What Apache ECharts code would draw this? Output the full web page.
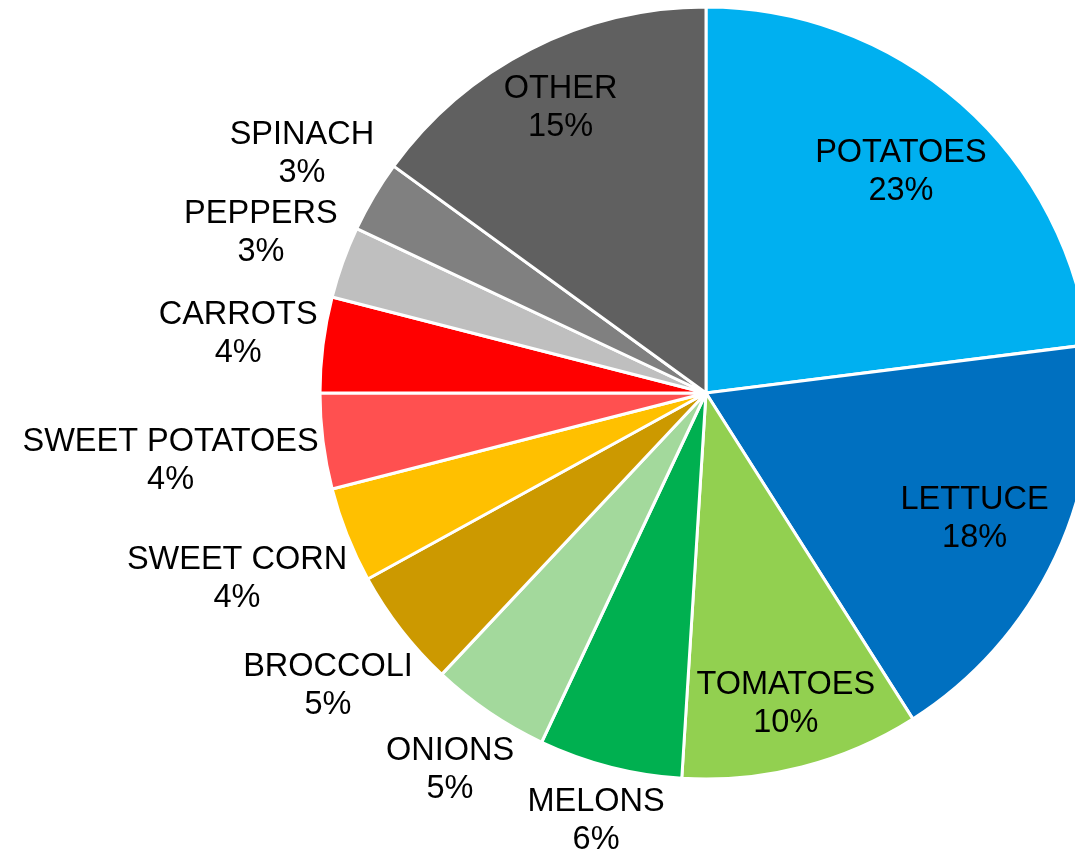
<!DOCTYPE html>
<html>
<head>
<meta charset="utf-8">
<title>Vegetable production share</title>
<script src="https://cdn.jsdelivr.net/npm/echarts@6/dist/echarts.min.js"></script>
<style>
  html, body { margin: 0; padding: 0; background: #ffffff; }
  #chart { width: 1075px; height: 851px; }
</style>
</head>
<body>
<div id="chart"></div>
<script>
// Share of vegetable production by crop (percent), clockwise from 12 o'clock
const categories = ['POTATOES', 'LETTUCE', 'TOMATOES', 'MELONS', 'ONIONS', 'BROCCOLI',
  'SWEET CORN', 'SWEET POTATOES', 'CARROTS', 'PEPPERS', 'SPINACH', 'OTHER'];
const shares = [23, 18, 10, 6, 5, 5, 4, 4, 4, 3, 3, 15];
const sliceColors = ['#00B0F0', '#0070C0', '#92D050', '#00B050', '#A3D99C', '#CC9900',
  '#FFC000', '#FF5050', '#FF0000', '#BFBFBF', '#808080', '#606060'];

// Pie geometry (pixels)
const CX = 706, CY = 393, R = 386;
const INSIDE_MIN = 10;      // slices at or above this share carry their label inside
const GAP_IN = 6, GAP_OUT = 2;

// Mid angle of every slice, measured clockwise from the top
const total = shares.reduce((s, v) => s + v, 0);
const midAngles = [];
let acc = 0;
shares.forEach(v => {
  midAngles.push((acc + v / 2) / total * Math.PI * 2);
  acc += v;
});

const chart = echarts.init(document.getElementById('chart'), null, { renderer: 'canvas' });

chart.setOption({
  animation: false,
  backgroundColor: '#ffffff',
  series: [{
    type: 'pie',
    center: [CX, CY],
    radius: R,
    startAngle: 90,
    clockwise: true,
    avoidLabelOverlap: false,
    itemStyle: { borderColor: '#ffffff', borderWidth: 3 },
    label: {
      show: true,
      position: 'outside',
      formatter: '{b}\n{d}%',
      color: '#000000',
      fontFamily: 'Liberation Sans, Arial, sans-serif',
      fontSize: 32.5,
      lineHeight: 38
    },
    labelLine: { show: false },
    // Place each label box just inside or just outside the rim along the slice's mid angle
    labelLayout: function (params) {
      const i = params.dataIndex;
      const w = params.labelRect.width, h = params.labelRect.height;
      const a = midAngles[i];
      const ux = Math.sin(a), uy = -Math.cos(a);
      const reach = Math.abs(ux) * w / 2 + Math.abs(uy) * h / 2;
      const d = shares[i] >= INSIDE_MIN ? R - GAP_IN - reach : R + GAP_OUT + reach;
      return {
        x: CX + d * ux,
        y: CY + d * uy,
        align: 'center',
        verticalAlign: 'middle'
      };
    },
    data: categories.map((name, i) => ({
      name: name,
      value: shares[i],
      itemStyle: { color: sliceColors[i] }
    }))
  }]
});
</script>
</body>
</html>
